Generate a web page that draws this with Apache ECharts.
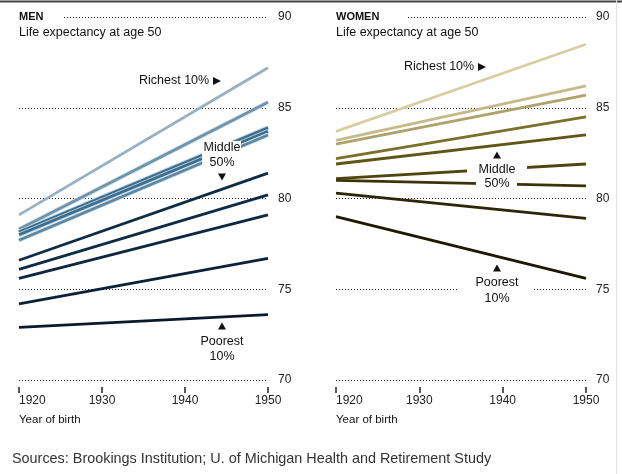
<!DOCTYPE html>
<html><head><meta charset="utf-8">
<script src="https://cdn.jsdelivr.net/npm/echarts@6/dist/echarts.min.js"></script>
<style>html,body{margin:0;padding:0;background:#fff}#c{width:622px;height:474px}</style>
</head><body><div id="c"></div>
<script>
// ---- data ----
const years = [1920, 1950];
const xTicks = [1920, 1930, 1940, 1950];
const yTicks = [70, 75, 80, 85, 90];
const men1920 = [79.1, 78.3, 78.15, 78.0, 77.7, 76.6, 76.1, 75.6, 74.2, 72.9];
const men1950 = [87.2, 85.3, 83.9, 83.7, 83.5, 81.4, 80.2, 79.1, 76.7, 73.6];
const women1920 = [83.7, 83.2, 83.0, 82.2, 81.9, 81.1, 81.0, 80.3, 79.0];
const women1950 = [88.5, 86.2, 85.7, 84.5, 83.5, 81.9, 80.7, 78.9, 75.6];

// ---- styles ----
const menColors = ['#97b1c3', '#6e93ab', '#3d6d8c', '#3d6d8c', '#5d86a2', '#0f2c45', '#0f2c45', '#0d2740', '#0b2137', '#0a1a2c'];
const menHalo = [null, '#d5e3ec', '#bcd4e2', '#bcd4e2', '#d5e3ec', null, null, null, null, null];
const womenColors = ['#d6cfa3', '#c5bb88', '#ada26b', '#7c7029', '#5f5516', '#4e4510', '#3c3408', '#2b2605', '#1c1903'];
const FONT = '"Liberation Sans", Arial, Helvetica, sans-serif';

function pts(a, b) { return years.map((y, i) => [y, i === 0 ? a : b]); }

const series = [];
men1920.forEach((v, i) => {
  if (menHalo[i]) series.push({ type: 'line', xAxisIndex: 0, yAxisIndex: 0, data: pts(v, men1950[i]), symbol: 'none', silent: true, lineStyle: { width: 4.6, color: menHalo[i] }, z: 3 });
  series.push({ type: 'line', xAxisIndex: 0, yAxisIndex: 0, data: pts(v, men1950[i]), symbol: 'none', silent: true, lineStyle: { width: 2.8, color: menColors[i] }, z: 3 });
});
women1920.forEach((v, i) => {
  series.push({ type: 'line', xAxisIndex: 1, yAxisIndex: 1, data: pts(v, women1950[i]), symbol: 'none', silent: true, lineStyle: { width: 2.8, color: womenColors[i] }, z: 3 });
});

function xAx(idx) {
  return {
    type: 'value', gridIndex: idx, min: xTicks[0], max: xTicks[xTicks.length - 1], interval: 10,
    offset: 7,
    axisLine: { show: false },
    axisTick: { show: true, length: 6, lineStyle: { color: '#222', width: 1.5 } },
    axisLabel: { margin: 8, fontSize: 12, color: '#222', fontFamily: FONT, alignMinLabel: 'left', formatter: v => String(v) },
    splitLine: { show: false }
  };
}
function yAx(idx) {
  return {
    type: 'value', gridIndex: idx, min: yTicks[0], max: yTicks[yTicks.length - 1], interval: 5,
    position: 'right',
    axisLine: { show: false }, axisTick: { show: false },
    axisLabel: { margin: 10, fontSize: 12, color: '#222', fontFamily: FONT },
    splitLine: { show: true, lineStyle: { type: [1, 2], width: 1, color: '#222' } }
  };
}

function txt(x, y, text, opt) {
  return Object.assign({ type: 'text', x: x, y: y, z: 100, silent: true,
    style: Object.assign({ text: text, fill: '#111', font: '12.5px ' + FONT, textVerticalAlign: 'middle' }, opt || {}) });
}
function box(x, y, w, h) {
  return { type: 'rect', z: 90, silent: true, shape: { x: x, y: y, width: w, height: h }, style: { fill: '#fff' } };
}
function tri(cx, cy, dir) {
  let p;
  if (dir === 'right') p = [[cx - 4, cy - 4], [cx + 4, cy], [cx - 4, cy + 4]];
  else if (dir === 'down') p = [[cx - 4, cy - 3.5], [cx + 4, cy - 3.5], [cx, cy + 3.5]];
  else p = [[cx - 4, cy + 3.5], [cx + 4, cy + 3.5], [cx, cy - 3.5]];
  return { type: 'polygon', z: 100, silent: true, shape: { points: p }, style: { fill: '#111' } };
}

const graphic = [
  { type: 'rect', z: 100, silent: true, shape: { x: 0, y: 0.5, width: 622, height: 2 }, style: { fill: '#444' } },
  { type: 'rect', z: 100, silent: true, shape: { x: 616, y: 0, width: 1, height: 474 }, style: { fill: '#e2e2e2' } },
  // MEN
  box(17, 10, 46, 14),
  txt(19, 17, 'MEN', { font: 'bold 11px ' + FONT, fill: '#111' }),
  txt(19, 33, 'Life expectancy at age 50'),
  txt(139, 81, 'Richest 10%'),
  tri(217, 81, 'right'),
  box(202, 141, 39, 30),
  txt(222, 148, 'Middle', { textAlign: 'center' }),
  txt(222, 163, '50%', { textAlign: 'center' }),
  tri(222, 177, 'down'),
  tri(222, 326, 'up'),
  txt(222, 342, 'Poorest', { textAlign: 'center' }),
  txt(222, 357, '10%', { textAlign: 'center' }),
  txt(19, 420, 'Year of birth', { font: '11.5px ' + FONT }),
  // WOMEN
  box(334, 10, 73, 14),
  txt(336, 17, 'WOMEN', { font: 'bold 11px ' + FONT, fill: '#111' }),
  txt(336, 33, 'Life expectancy at age 50'),
  txt(404, 67, 'Richest 10%'),
  tri(482, 67, 'right'),
  tri(497, 155, 'up'),
  box(467, 162, 60, 14),
  box(476, 177, 41, 14),
  txt(497, 170, 'Middle', { textAlign: 'center' }),
  txt(497, 184, '50%', { textAlign: 'center' }),
  tri(497, 268, 'up'),
  box(458, 276, 74, 30),
  txt(497, 283, 'Poorest', { textAlign: 'center' }),
  txt(497, 299, '10%', { textAlign: 'center' }),
  txt(336, 420, 'Year of birth', { font: '11.5px ' + FONT }),
  // source
  txt(12, 459, 'Sources: Brookings Institution; U. of Michigan Health and Retirement Study', { font: '14.4px ' + FONT, fill: '#333' })
];

const chart = echarts.init(document.getElementById('c'), null, { renderer: 'canvas' });
chart.setOption({
  animation: false,
  backgroundColor: '#fff',
  grid: [
    { left: 19, right: 354, top: 17, bottom: 94 },
    { left: 336, right: 36, top: 17, bottom: 94 }
  ],
  xAxis: [xAx(0), xAx(1)],
  yAxis: [yAx(0), yAx(1)],
  series: series,
  graphic: graphic
});
</script></body></html>
